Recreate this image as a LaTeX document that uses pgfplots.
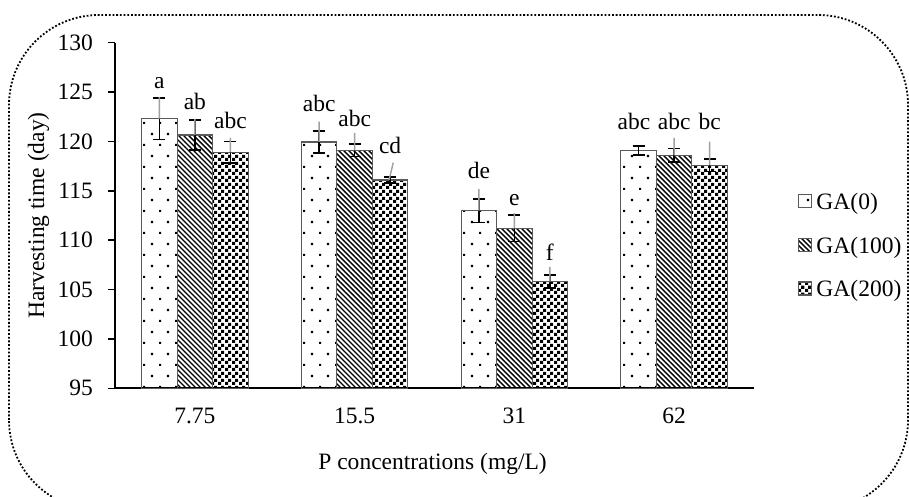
\documentclass[border=0pt]{standalone}
\usepackage{fontspec}
\setmainfont{Liberation Serif}
\usepackage{pgfplots}
\pgfplotsset{compat=1.18}
\usetikzlibrary{patterns}

\definecolor{barline}{RGB}{89,89,89}
\definecolor{leader}{RGB}{160,160,160}

% sparse staggered dots (GA 0)
\pgfdeclarepatternformonly{sparsedots}{\pgfqpoint{-1pt}{-1pt}}{\pgfqpoint{15pt}{21pt}}{\pgfqpoint{16pt}{22pt}}{%
  \pgfpathrectangle{\pgfqpoint{-1.1pt}{-1.1pt}}{\pgfqpoint{2.2pt}{2.2pt}}%
  \pgfpathrectangle{\pgfqpoint{6.9pt}{9.9pt}}{\pgfqpoint{2.2pt}{2.2pt}}%
  \pgfusepath{fill}}
% dense back-slash lines (GA 100)
\pgfdeclarepatternformonly{diaglines}{\pgfqpoint{-1pt}{-1pt}}{\pgfqpoint{6pt}{6pt}}{\pgfqpoint{5pt}{5pt}}{%
  \pgfsetlinewidth{1.4pt}%
  \pgfpathmoveto{\pgfqpoint{0pt}{5pt}}\pgfpathlineto{\pgfqpoint{5.1pt}{-0.1pt}}%
  \pgfusepath{stroke}}
% small checkerboard (GA 200)
\pgfdeclarepatternformonly{checker}{\pgfpointorigin}{\pgfqpoint{6.6pt}{6.6pt}}{\pgfqpoint{6.6pt}{6.6pt}}{%
  \pgfpathrectangle{\pgfpointorigin}{\pgfqpoint{3.4pt}{3.4pt}}%
  \pgfpathrectangle{\pgfqpoint{3.3pt}{3.3pt}}{\pgfqpoint{3.3pt}{3.3pt}}%
  \pgfusepath{fill}}

\newcommand{\chartfont}{\fontsize{23.5}{28}\selectfont}

\begin{document}
\begin{tikzpicture}[x=1pt,y=1pt]
\useasboundingbox (0,0) rectangle (909,497);
\draw[line width=1.8pt, dash pattern=on 1.8pt off 1.9pt, rounded corners=90pt] (9,-13) rectangle (908,482);
\begin{axis}[
  at={(115pt,108.7pt)}, anchor=south west, scale only axis,
  width=639pt, height=345.6pt,
  xmin=-0.5, xmax=3.5, ymin=95, ymax=130,
  axis lines*=left, axis line style={black, line width=1.6pt},
  xtick={0,1,2,3}, xticklabels={7.75,15.5,31,62},
  ytick={95,100,...,130},
  tick align=outside, major tick length=7pt,
  xtick style={draw=none}, ytick style={black, line width=1.4pt},
  /pgf/number format/assume math mode=true,
  tick label style={font=\chartfont},
  yticklabel style={anchor=east, inner sep=0pt, xshift=-15pt},
  xticklabel style={anchor=north, inner sep=0pt, yshift=-12.2pt},
  xlabel={P concentrations (mg/L)}, ylabel={Harvesting time (day)},
  label style={font=\chartfont, inner sep=0pt},
  xlabel style={at={(axis description cs:0.497,-0.2344)}, anchor=base},
  ylabel style={at={(axis description cs:-0.1111,0.5)}, anchor=base},
  legend style={at={(axis description cs:1.069,0.4126)}, anchor=west,
    draw=none, fill=none, inner sep=0pt, row sep=26pt, font=\chartfont,
    nodes={inner sep=0pt}, cells={anchor=west},
    /tikz/every odd column/.append style={column sep=4pt}},
  legend image code/.code={\draw[#1, line width=1.2pt] (0pt,-5.5pt) rectangle (13pt,7.5pt);},
  error bars/error bar style={black, line width=1.6pt},
  error bars/error mark options={black, line width=1.6pt, mark size=6pt, rotate=90},
]
% bars placed at their own x (group +/- one bar width), so error bars sit on them
\addplot[ybar, bar width=35.5pt, bar shift=0pt, draw=barline, line width=1.2pt, pattern=sparsedots,
  error bars/.cd, y dir=both, y explicit]
  coordinates {(-0.2222,122.3) +- (0,2.1) (0.7778,119.95) +- (0,1.1) (1.7778,113.0) +- (0,1.2) (2.7778,119.1) +- (0,0.45)};
\addlegendentry{GA(0)}
\addplot[ybar, bar width=35.5pt, bar shift=0pt, draw=barline, line width=1.2pt, pattern=diaglines,
  error bars/.cd, y dir=both, y explicit]
  coordinates {(0,120.65) +- (0,1.5) (1,119.1) +- (0,0.63) (2,111.2) +- (0,1.35) (3,118.6) +- (0,0.67)};
\addlegendentry{GA(100)}
\addplot[ybar, bar width=35.5pt, bar shift=0pt, draw=barline, line width=1.2pt, pattern=checker,
  error bars/.cd, y dir=both, y explicit]
  coordinates {(0.2222,118.9) +- (0,1.1) (1.2222,116.1) +- (0,0.3) (2.2222,105.8) +- (0,0.67) (3.2222,117.6) +- (0,0.65)};
\addlegendentry{GA(200)}
% leader lines from labels to bars
\addplot[leader, line width=1.4pt, unbounded coords=jump, forget plot] coordinates {
  (-0.2222,124.5) (-0.2222,122.3) (-0.2222,nan)
  (0,122.27) (0,120.65) (0,nan)
  (0.2222,120.35) (0.2222,118.9) (0.2222,nan)
  (0.7778,122.0) (0.7778,119.95) (0.7778,nan)
  (1,120.86) (1,119.1) (1,nan)
  (1.242,117.85) (1.2152,116.1) (1.2152,nan)
  (1.7778,115.18) (1.7778,113.0) (1.7778,nan)
  (2,112.75) (2,111.2) (2,nan)
  (2.2222,107.3) (2.2222,105.8) (2.2222,nan)
  (3,120.35) (3,118.6) (3,nan)
  (3.2222,119.97) (3.2222,117.6)
};
% significance letters
\addplot[draw=none, mark=none, forget plot, nodes near coords, point meta=explicit symbolic,
  every node near coord/.style={anchor=base, inner sep=0pt, font=\chartfont, black}] coordinates {
  (-0.2222,125.38)[a] (0,123.26)[ab] (0.2222,121.33)[abc]
  (0.7778,123.01)[abc] (1,121.49)[abc] (1.2222,118.80)[cd]
  (1.7778,116.20)[de] (2,113.56)[e] (2.2222,107.99)[f]
  (2.749,121.16)[abc] (3,121.16)[abc] (3.2222,121.16)[bc]
};
\end{axis}
\end{tikzpicture}
\end{document}
